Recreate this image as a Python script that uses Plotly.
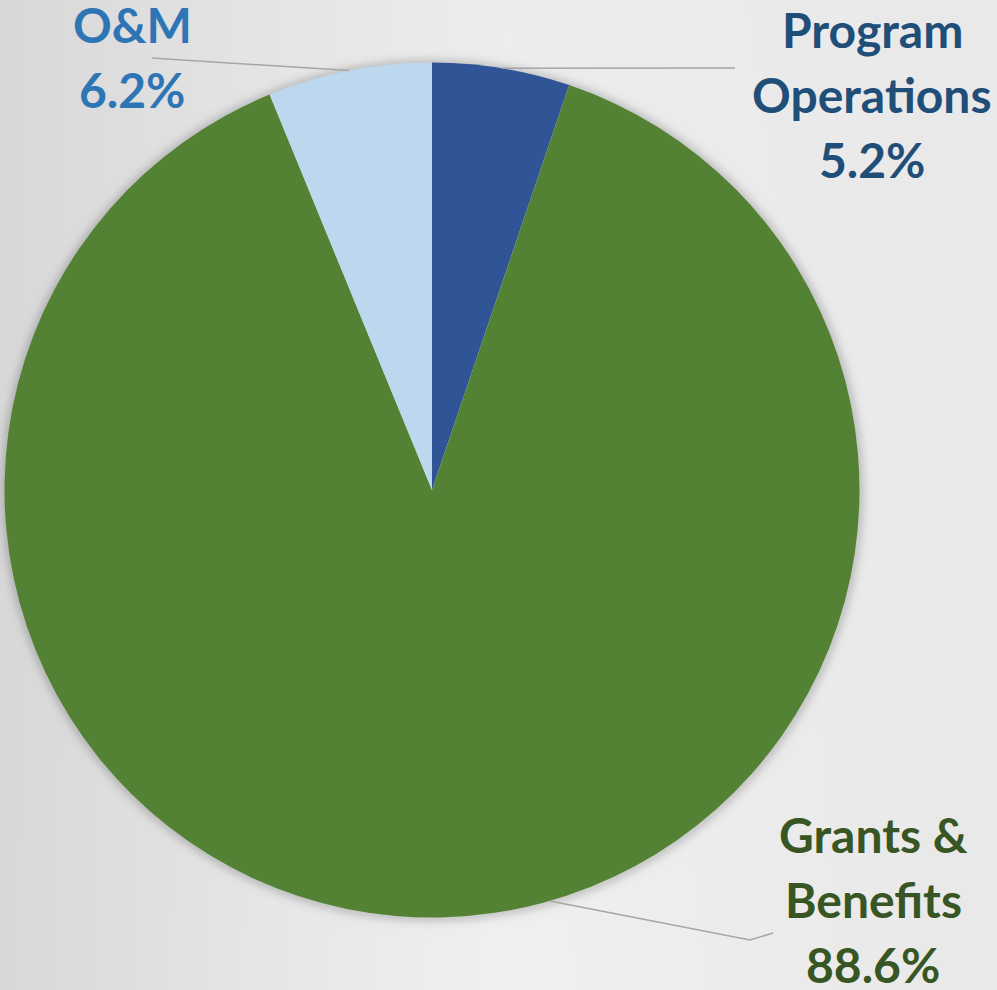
import base64
import struct
import zlib

import numpy as np
import plotly.graph_objects as go

# ---- data -------------------------------------------------------------
categories = ["Program Operations", "Grants & Benefits", "O&M"]
label_lines = [["Program", "Operations"], ["Grants &", "Benefits"], ["O&M"]]
shares = [5.2, 88.6, 6.2]
slice_colors = ["#2F5597", "#548235", "#BDD7EE"]
label_colors = ["#1F4E79", "#375623", "#2E75B6"]

# ---- layout constants (pixels) ---------------------------------------
W, H = 997, 990
CX, CY, R = 432, 490, 427.5          # pie centre and radius
FONT = "Lato"
FONT_SIZE = 48
LINE_PITCH = 65
# label block: centre x, first baseline y
label_pos = [(872, 47), (873, 852), (132, 42)]
# leader lines: attach angle override (deg clockwise from 12 o'clock), then bend points
leader_attach = [None, 164.0, None]
leader_path = [[(735, 68)], [(750, 940), (773, 933)], [(152, 58)]]
LEADER_COLOR = "#A6A6A6"


def px(x):
    return x / W


def py(y):
    return 1 - y / H


# ---- background: soft grey gradient with a glow under the pie ---------
def background_png():
    xs = np.arange(W, dtype=float)
    ys = np.arange(H, dtype=float)
    X, Y = np.meshgrid(xs, ys)
    base = np.interp(X, [0, 250, 500, 997], [216, 228, 237, 233])
    base += 3 * (Y / H) * np.exp(-((X - 480) / 300) ** 2)
    d = np.hypot(X - CX, Y - CY)
    glow = 34 * np.exp(-((d - R + 1) / 7.0) ** 2)
    glow[d < R - 3] = 0
    v = np.clip(base - glow, 0, 255).astype(np.uint8)
    rgb = np.repeat(v[:, :, None], 3, axis=2)
    raw = b"".join(b"\x00" + rgb[r].tobytes() for r in range(H))

    def chunk(tag, data):
        c = struct.pack(">I", len(data)) + tag + data
        return c + struct.pack(">I", zlib.crc32(tag + data) & 0xFFFFFFFF)

    png = b"\x89PNG\r\n\x1a\n"
    png += chunk(b"IHDR", struct.pack(">IIBBBBB", W, H, 8, 2, 0, 0, 0))
    png += chunk(b"IDAT", zlib.compress(raw, 9))
    png += chunk(b"IEND", b"")
    return "data:image/png;base64," + base64.b64encode(png).decode()


fig = go.Figure(
    go.Pie(
        labels=categories,
        values=shares,
        sort=False,
        direction="clockwise",
        rotation=0,
        marker=dict(colors=slice_colors, line=dict(width=0)),
        textinfo="none",
        hoverinfo="label+percent",
        domain=dict(x=[px(CX - R), px(CX + R)], y=[py(CY + R), py(CY - R)]),
    )
)

# ---- leader lines and labels ------------------------------------------
total = sum(shares)
shapes = []
annotations = []
cum = 0.0
for i, v in enumerate(shares):
    mid = (cum + v / 2) / total * 360
    cum += v
    ang = np.radians(leader_attach[i] if leader_attach[i] is not None else mid)
    pts = [(CX + R * np.sin(ang), CY - R * np.cos(ang))] + leader_path[i]
    path = "M " + " L ".join(f"{px(x):.5f},{py(y):.5f}" for x, y in pts)
    shapes.append(dict(type="path", xref="paper", yref="paper", path=path,
                       line=dict(color=LEADER_COLOR, width=1.5)))

    lx, ly = label_pos[i]
    lines = label_lines[i] + [f"{v:.1f}%"]
    for k, t in enumerate(lines):
        base_y = ly + k * LINE_PITCH
        annotations.append(dict(
            x=px(lx), y=py(base_y - 0.36 * FONT_SIZE), xref="paper", yref="paper",
            xanchor="center", yanchor="middle", showarrow=False, text=t,
            font=dict(family=FONT, size=FONT_SIZE, color=label_colors[i], weight="bold"),
        ))

fig.update_layout(
    width=W, height=H,
    margin=dict(l=0, r=0, t=0, b=0),
    showlegend=False,
    paper_bgcolor="#E3E3E3",
    plot_bgcolor="rgba(0,0,0,0)",
    shapes=shapes,
    annotations=annotations,
    images=[dict(source=background_png(), xref="paper", yref="paper", x=0, y=1,
                 sizex=1, sizey=1, xanchor="left", yanchor="top",
                 sizing="stretch", layer="below")],
)

fig.write_html("out.html")
